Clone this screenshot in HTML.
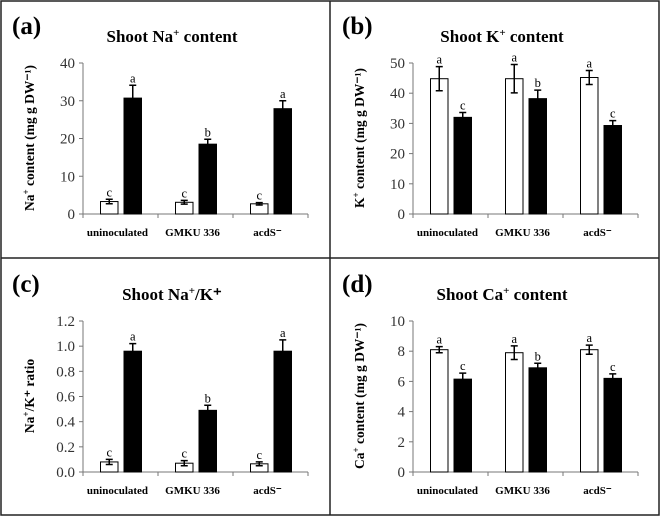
<!DOCTYPE html>
<html><head><meta charset="utf-8"><style>
html,body{margin:0;padding:0;background:#fff}
svg{display:block;font-family:"Liberation Serif",serif}
</style></head><body>
<svg id="fig" width="660" height="516" viewBox="0 0 660 516">
<rect x="1" y="1" width="658" height="514" fill="#fff" stroke="#222" stroke-width="1.5"/>
<line x1="330" y1="1" x2="330" y2="515" stroke="#222" stroke-width="1.5"/>
<line x1="1" y1="258" x2="659" y2="258" stroke="#222" stroke-width="1.5"/>
</svg>
<script>
const categories = ["uninoculated", "GMKU 336", "acdS\u207B"];
const naWhite = [3.3, 3.1, 2.7], naWhiteErr = [0.6, 0.5, 0.3];
const naBlack = [30.7, 18.5, 27.9], naBlackErr = [3.4, 1.3, 2.1];
const naLetters = [["c","a"],["c","b"],["c","a"]];
const naTicks = ["0","10","20","30","40"];
const kWhite = [44.8, 44.8, 45.2], kWhiteErr = [4.0, 4.7, 2.3];
const kBlack = [32.0, 38.2, 29.3], kBlackErr = [1.6, 2.8, 1.6];
const kLetters = [["a","c"],["a","b"],["a","c"]];
const kTicks = ["0","10","20","30","40","50"];
const rWhite = [0.08, 0.07, 0.065], rWhiteErr = [0.02, 0.02, 0.015];
const rBlack = [0.96, 0.49, 0.96], rBlackErr = [0.06, 0.04, 0.09];
const rLetters = [["c","a"],["c","b"],["c","a"]];
const rTicks = ["0.0","0.2","0.4","0.6","0.8","1.0","1.2"];
const caWhite = [8.1, 7.9, 8.1], caWhiteErr = [0.2, 0.45, 0.3];
const caBlack = [6.15, 6.9, 6.2], caBlackErr = [0.4, 0.3, 0.3];
const caLetters = [["a","c"],["a","b"],["a","c"]];
const caTicks = ["0","2","4","6","8","10"];

const NS = "http://www.w3.org/2000/svg";
const svg = document.getElementById("fig");
function mk(tag, attrs, parent, text){
  const e = document.createElementNS(NS, tag);
  for (const k in attrs) e.setAttribute(k, attrs[k]);
  if (text !== undefined) e.textContent = text;
  (parent||svg).appendChild(e);
  return e;
}

function panel(ox, oy, key, label, titleMain, titleSup, titleRest, yMain, ySup, yRest, ticks, white, wErr, black, bErr, letters){
  const g = mk("g", {transform:`translate(${ox},${oy})`});
  
  
  const ymax = parseFloat(ticks[ticks.length-1]);
  const x0 = 83, x1 = 308, yTop = 63, yBot = 214;
  const yS = v => yBot - (v / ymax) * (yBot - yTop);
  const gw = (x1 - x0) / categories.length;
  const lab = mk("text", {x:12, y:34, "font-size":25, "font-weight":"bold"}, g, label);
  
  
  const t = mk("text", {x:172, y:42, "font-size":17, "font-weight":"bold", "text-anchor":"middle"}, g);
  
  
  mk("tspan", {}, t, titleMain);
  mk("tspan", {dy:-6, "font-size":11}, t, titleSup);
  mk("tspan", {dy:6}, t, titleRest);
  const yt = mk("text", {transform:`translate(34,138) rotate(-90)`, "font-size":13.5, "font-weight":"bold", "text-anchor":"middle"}, g);
  
  
  mk("tspan", {}, yt, yMain);
  mk("tspan", {dy:-5, "font-size":9}, yt, ySup);
  mk("tspan", {dy:5}, yt, yRest);
  const ax = mk("line", {x1:x0, y1:yTop, x2:x0, y2:yBot, stroke:"#777", "stroke-width":1}, g);
  
  
  const xa = mk("line", {x1:x0, y1:yBot, x2:x1, y2:yBot, stroke:"#777", "stroke-width":1}, g);
  
  
  ticks.forEach(tk => {
    const y = yS(parseFloat(tk));
    mk("line", {x1:x0-4, y1:y, x2:x0, y2:y, stroke:"#777"}, g);
    const tl = mk("text", {x:x0-8, y:y+5, "font-size":15, "text-anchor":"end", fill:"#333"}, g, tk);
    
    
  });
  for (let i = 0; i <= categories.length; i++){
    const x = x0 + i*gw;
    mk("line", {x1:x, y1:yBot, x2:x, y2:yBot+4, stroke:"#777"}, g);
  }
  categories.forEach((c, i) => {
    const cx = x0 + gw*(i+0.5);
    const cl = mk("text", {x:cx-3, y:236, "font-size":11, "font-weight":"bold", "text-anchor":"middle"}, g, c);
    
    
    const bw = 17.5;
    [[white, wErr, "#fff", cx-20], [black, bErr, "#000", cx+3.5]].forEach((s, j) => {
      const v = s[0][i], e = s[1][i], bx = s[3];
      const r = mk("rect", {x:bx, y:yS(v), width:bw, height:yBot-yS(v), fill:s[2], stroke:"#000", "stroke-width":1}, g);
      
      
      const mx = bx + bw/2;
      const eb = mk("path", {d:`M${mx},${yS(v-e)}V${yS(v+e)}M${mx-3.5},${yS(v-e)}H${mx+3.5}M${mx-3.5},${yS(v+e)}H${mx+3.5}`, stroke:"#000", "stroke-width":1.5, fill:"none"}, g);
      
      
      const lt = mk("text", {x:mx, y:yS(v+e)-3, "font-size":12.5, "text-anchor":"middle"}, g, letters[i][j]);
      
      
    });
  });
}

panel(0, 0, "a", "(a)", "Shoot Na", "+", " content", "Na", "+", " content (mg g DW\u207B\u00B9)", naTicks, naWhite, naWhiteErr, naBlack, naBlackErr, naLetters);
panel(330, 0, "b", "(b)", "Shoot K", "+", " content", "K", "+", " content (mg g DW\u207B\u00B9)", kTicks, kWhite, kWhiteErr, kBlack, kBlackErr, kLetters);
panel(0, 258, "c", "(c)", "Shoot Na", "+", "/K\u207A", "Na", "+", "/K\u207A ratio", rTicks, rWhite, rWhiteErr, rBlack, rBlackErr, rLetters);
panel(330, 258, "d", "(d)", "Shoot Ca", "+", " content", "Ca", "+", " content (mg g DW\u207B\u00B9)", caTicks, caWhite, caWhiteErr, caBlack, caBlackErr, caLetters);
</script>
</body></html>
